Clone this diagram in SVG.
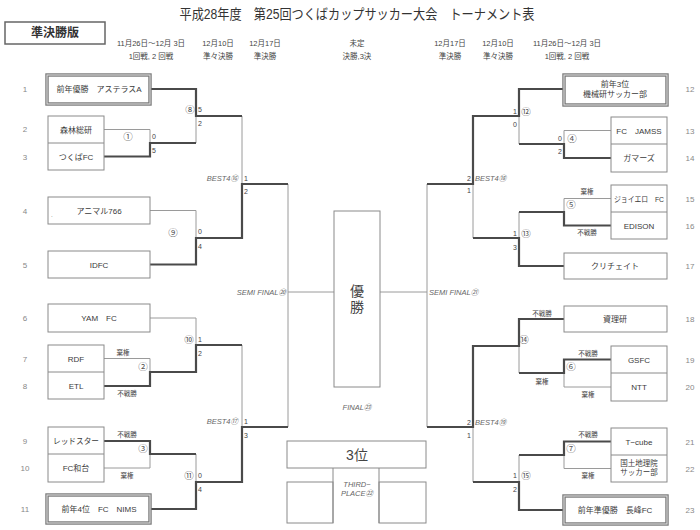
<svg xmlns="http://www.w3.org/2000/svg" width="700" height="530" viewBox="0 0 700 530">
<style>
text{font-family:"Liberation Sans","Noto Sans CJK JP",sans-serif;}
.title{font-size:14px;fill:#333;text-anchor:middle;}
.hdr{font-size:7.5px;fill:#444;text-anchor:middle;}
.name{font-size:8px;fill:#3a3a3a;text-anchor:middle;}
.num{font-size:8px;fill:#888;text-anchor:middle;}
.sc{font-size:7px;fill:#444;}
.scr{font-size:7px;fill:#444;text-anchor:end;}
.note{font-size:6.5px;fill:#444;text-anchor:middle;}
.circ{font-size:9.5px;fill:#555;text-anchor:middle;}
.it{font-size:7.5px;fill:#666;font-style:italic;}
.box{fill:#fff;stroke:#8a8a8a;stroke-width:1;}
.dbl{fill:#fff;stroke:#777;stroke-width:3.4;}
.dblin{fill:none;stroke:#ddd;stroke-width:1.1;}
.thin{fill:none;stroke:#9a9a9a;stroke-width:1;}
.thick{fill:none;stroke:#4a4a4a;stroke-width:2.2;}
.div{stroke:#8a8a8a;stroke-width:1;}
</style>
<rect width="700" height="530" fill="#fff"/>

<g id="header">
<text class="title" x="357" y="19" textLength="355" lengthAdjust="spacingAndGlyphs">平成28年度　第25回つくばカップサッカー大会　トーナメント表</text>
<rect x="5" y="22" width="100" height="22" fill="#fff" stroke="#666" stroke-width="1.5"/>
<text x="55" y="37" style="font-size:12px;font-weight:bold;fill:#333;text-anchor:middle">準決勝版</text>
<text class="hdr" x="151" y="46">11月26日～12月 3日</text>
<text class="hdr" x="151" y="59">1回戦, 2 回戦</text>
<text class="hdr" x="218" y="46">12月10日</text>
<text class="hdr" x="218" y="59">準々決勝</text>
<text class="hdr" x="265" y="46">12月17日</text>
<text class="hdr" x="265" y="59">準決勝</text>
<text class="hdr" x="357" y="46">未定</text>
<text class="hdr" x="357" y="59">決勝,3決</text>
<text class="hdr" x="450" y="46">12月17日</text>
<text class="hdr" x="450" y="59">準決勝</text>
<text class="hdr" x="498" y="46">12月10日</text>
<text class="hdr" x="498" y="59">準々決勝</text>
<text class="hdr" x="567" y="46">11月26日～12月 3日</text>
<text class="hdr" x="567" y="59">1回戦, 2 回戦</text>
</g>

<g id="connectors">
<path class="thin" d="M104,129.5H150V143 M196,116V143 M150,210.5H196V238 M242,116V184 M104,358.5H150V372 M150,318H196V345 M104,468H150V454 M196,454V482 M242,345V427 M288,184V427 M288,292H334"/>
<path class="thin" d="M611,130.5H564V144 M519,116V144 M611,198.5H564V212 M519,212V238 M473,184V238 M519,346V373 M611,387H564V373 M611,468.5H564V455 M519,455V482 M473,427V482 M427,184V427 M427,292H380"/>
<path class="thick" d="M150,89H196V116H242 M104,156.5H150V143H196 M150,264.5H196V238H242V184H288 M104,386H150V372H196V345H242 M104,441H150V454H196 M150,509H196V482H242V427H288"/>
<path class="thick" d="M564,89H519V116H473V184H427 M611,158H564V144H519 M611,225.5H564V212H519 M564,266H519V238H473 M564,319H519V346H473V427H427 M611,359.5H564V373H519 M611,441.5H564V455H519 M564,510H519V482H473"/>
</g>

<g id="labels">
<text class="circ" x="190" y="113">⑧</text><text class="sc" x="198" y="112">5</text><text class="sc" x="198" y="126">2</text>
<text class="circ" x="128" y="140">①</text><text class="sc" x="152" y="139">0</text><text class="sc" x="152" y="153">5</text>
<text class="circ" x="173" y="236">⑨</text><text class="sc" x="198" y="234">0</text><text class="sc" x="198" y="249">4</text>
<text class="it" x="238" y="181" text-anchor="end">BEST4⑯</text><text class="sc" x="244" y="181">1</text><text class="sc" x="244" y="194">2</text>
<text class="it" x="286" y="295" text-anchor="end">SEMI FINAL⑳</text>
<text class="circ" x="189" y="343">⑩</text><text class="sc" x="198" y="342">1</text><text class="sc" x="198" y="356">2</text>
<text class="note" x="123" y="355">棄権</text><text class="circ" x="143" y="370">②</text><text class="note" x="127" y="396">不戦勝</text>
<text class="it" x="238" y="424" text-anchor="end">BEST4⑰</text><text class="sc" x="244" y="424">1</text><text class="sc" x="244" y="438">3</text>
<text class="note" x="127" y="437">不戦勝</text><text class="circ" x="143" y="452">③</text><text class="note" x="127" y="478">棄権</text>
<text class="circ" x="189" y="479">⑪</text><text class="sc" x="198" y="478">0</text><text class="sc" x="198" y="492">4</text>

<text class="scr" x="517" y="114">1</text><text class="circ" x="526" y="115">⑫</text><text class="scr" x="517" y="127">0</text>
<text class="scr" x="562" y="141">0</text><text class="circ" x="572" y="142">④</text><text class="scr" x="562" y="154">2</text>
<text class="scr" x="471" y="181">2</text><text class="it" x="475" y="181">BEST4⑱</text><text class="scr" x="471" y="193">1</text>
<text class="it" x="429" y="295">SEMI FINAL㉑</text>
<text class="note" x="587" y="194">棄権</text><text class="circ" x="571" y="208">⑤</text><text class="note" x="587" y="235">不戦勝</text>
<text class="scr" x="517" y="236">1</text><text class="circ" x="526" y="237">⑬</text><text class="scr" x="517" y="250">3</text>
<text class="note" x="542" y="316">不戦勝</text><text class="circ" x="524" y="343">⑭</text><text class="note" x="542" y="384">棄権</text>
<text class="note" x="588" y="356">不戦勝</text><text class="circ" x="571" y="370">⑥</text><text class="note" x="588" y="397">棄権</text>
<text class="scr" x="471" y="425">2</text><text class="it" x="475" y="425">BEST4⑲</text><text class="scr" x="471" y="438">1</text>
<text class="note" x="588" y="437">不戦勝</text><text class="circ" x="571" y="452">⑦</text><text class="note" x="588" y="478">棄権</text>
<text class="scr" x="517" y="478">1</text><text class="circ" x="526" y="479">⑮</text><text class="scr" x="517" y="492">2</text>
</g>

<g id="final">
<rect class="box" x="334" y="211" width="46" height="176"/>
<text x="357" y="296" style="font-size:14px;fill:#444;text-anchor:middle">優</text>
<text x="357" y="312" style="font-size:14px;fill:#444;text-anchor:middle">勝</text>
<text class="it" x="357" y="410" text-anchor="middle">FINAL㉓</text>
</g>
<g id="third">
<rect class="box" x="287" y="441" width="139" height="27"/>
<text x="357" y="460" style="font-size:14px;fill:#444;text-anchor:middle">3位</text>
<rect class="box" x="287" y="482" width="46" height="41"/>
<rect class="box" x="379" y="482" width="47" height="41"/>
<path class="div" d="M333,468V523 M379,468V523"/>
<text class="it" x="357" y="487" text-anchor="middle">THIRD−</text>
<text class="it" x="357" y="496" text-anchor="middle">PLACE㉒</text>
</g>

<g id="team1"><rect class="dbl" x="47" y="75" width="103" height="29"/><rect class="dblin" x="47" y="75" width="103" height="29"/><text class="name" x="99" y="92">前年優勝　アステラスA</text><text class="num" x="25" y="92">1</text></g>
<g id="team2-3"><rect class="box" x="48" y="116" width="56" height="54"/><line class="div" x1="48" y1="143" x2="104" y2="143"/><text class="name" x="76" y="132.5">森林総研</text><text class="name" x="76" y="159.5">つくばFC</text><text class="num" x="25" y="132">2</text><text class="num" x="25" y="160">3</text></g>
<g id="team4"><rect class="box" x="48" y="197" width="102" height="27"/><text class="name" x="99" y="213.5">アニマル766</text><text x="51" y="217" style="font-size:6px;fill:#555">.</text><text class="num" x="25" y="214">4</text></g>
<g id="team5"><rect class="box" x="48" y="251" width="102" height="27"/><text class="name" x="99" y="267.5">IDFC</text><text class="num" x="25" y="268">5</text></g>
<g id="team6"><rect class="box" x="48" y="304" width="102" height="28"/><text class="name" x="99" y="321">YAM　FC</text><text class="num" x="25" y="321">6</text></g>
<g id="team7-8"><rect class="box" x="48" y="345" width="56" height="54"/><line class="div" x1="48" y1="372" x2="104" y2="372"/><text class="name" x="76" y="361.5">RDF</text><text class="name" x="76" y="389">ETL</text><text class="num" x="25" y="362">7</text><text class="num" x="25" y="389">8</text></g>
<g id="team9-10"><rect class="box" x="48" y="427" width="56" height="55"/><line class="div" x1="48" y1="454" x2="104" y2="454"/><text class="name" x="76" y="444" textLength="46" lengthAdjust="spacingAndGlyphs">レッドスター</text><text class="name" x="76" y="471">FC和台</text><text class="num" x="25" y="444">9</text><text class="num" x="25" y="471">10</text></g>
<g id="team11"><rect class="dbl" x="47" y="495" width="103" height="28"/><rect class="dblin" x="47" y="495" width="103" height="28"/><text class="name" x="99" y="512">前年4位　FC　NIMS</text><text class="num" x="25" y="512">11</text></g>

<g id="team12"><rect class="dbl" x="564" y="75" width="103" height="30"/><rect class="dblin" x="564" y="75" width="103" height="30"/><text class="name" x="615" y="87">前年3位</text><text class="name" x="615" y="97">機械研サッカー部</text><text class="num" x="690" y="92">12</text></g>
<g id="team13-14"><rect class="box" x="611" y="117" width="56" height="55"/><line class="div" x1="611" y1="144" x2="667" y2="144"/><text class="name" x="639" y="133.5">FC　JAMSS</text><text class="name" x="639" y="161">ガマーズ</text><text class="num" x="690" y="134">13</text><text class="num" x="690" y="161">14</text></g>
<g id="team15-16"><rect class="box" x="611" y="185" width="56" height="54"/><line class="div" x1="611" y1="212" x2="667" y2="212"/><text class="name" x="639" y="201.5" textLength="50" lengthAdjust="spacingAndGlyphs">ジョイエロ　FC</text><text class="name" x="639" y="228.5">EDISON</text><text class="num" x="690" y="202">15</text><text class="num" x="690" y="229">16</text></g>
<g id="team17"><rect class="box" x="564" y="253" width="103" height="26"/><text class="name" x="615" y="269">クリチェイト</text><text class="num" x="690" y="269">17</text></g>
<g id="team18"><rect class="box" x="564" y="306" width="103" height="26"/><text class="name" x="615" y="322">資理研</text><text class="num" x="690" y="322">18</text></g>
<g id="team19-20"><rect class="box" x="611" y="346" width="56" height="55"/><line class="div" x1="611" y1="373" x2="667" y2="373"/><text class="name" x="639" y="362.5">GSFC</text><text class="name" x="639" y="390">NTT</text><text class="num" x="690" y="363">19</text><text class="num" x="690" y="390">20</text></g>
<g id="team21-22"><rect class="box" x="611" y="428" width="56" height="54"/><line class="div" x1="611" y1="455" x2="667" y2="455"/><text class="name" x="639" y="444.5">T−cube</text><text class="name" x="639" y="466" style="font-size:7.5px">国土地理院</text><text class="name" x="639" y="475" style="font-size:7.5px">サッカー部</text><text class="num" x="690" y="445">21</text><text class="num" x="690" y="472">22</text></g>
<g id="team23"><rect class="dbl" x="564" y="496" width="103" height="28"/><rect class="dblin" x="564" y="496" width="103" height="28"/><text class="name" x="615" y="513">前年準優勝　長峰FC</text><text class="num" x="690" y="513">23</text></g>
</svg>
